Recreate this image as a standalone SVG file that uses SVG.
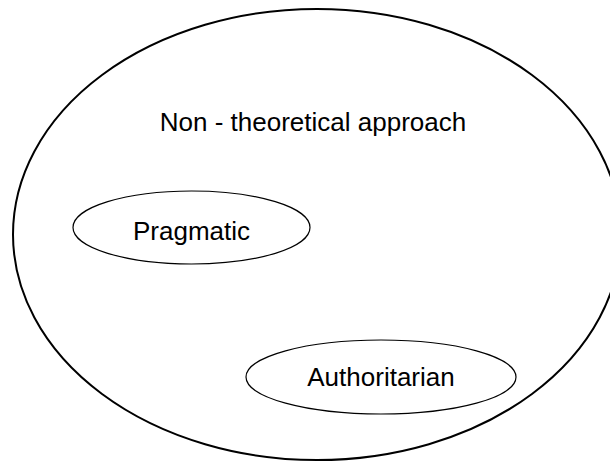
<svg xmlns="http://www.w3.org/2000/svg" width="610" height="461" viewBox="0 0 610 461">
  <style>
    .lbl { font-family: "Liberation Sans", Arial, sans-serif; font-size: 26px; fill: #000; text-anchor: middle; }
    .outer { fill: none; stroke: #000; stroke-width: 2; }
    .inner { fill: none; stroke: #000; stroke-width: 1.2; }
  </style>
  <rect width="610" height="461" fill="#fff"/>
  <g id="non-theoretical">
    <ellipse class="outer" cx="317" cy="234.5" rx="304" ry="225.5"/>
    <text class="lbl" x="313" y="131">Non - theoretical approach</text>
  </g>
  <g id="pragmatic">
    <ellipse class="inner" cx="191.5" cy="227.5" rx="118.5" ry="36.5"/>
    <text class="lbl" x="191.5" y="240">Pragmatic</text>
  </g>
  <g id="authoritarian">
    <ellipse class="inner" cx="381" cy="377" rx="135" ry="37"/>
    <text class="lbl" x="381" y="386">Authoritarian</text>
  </g>
  <g id="connectors"/>
</svg>
